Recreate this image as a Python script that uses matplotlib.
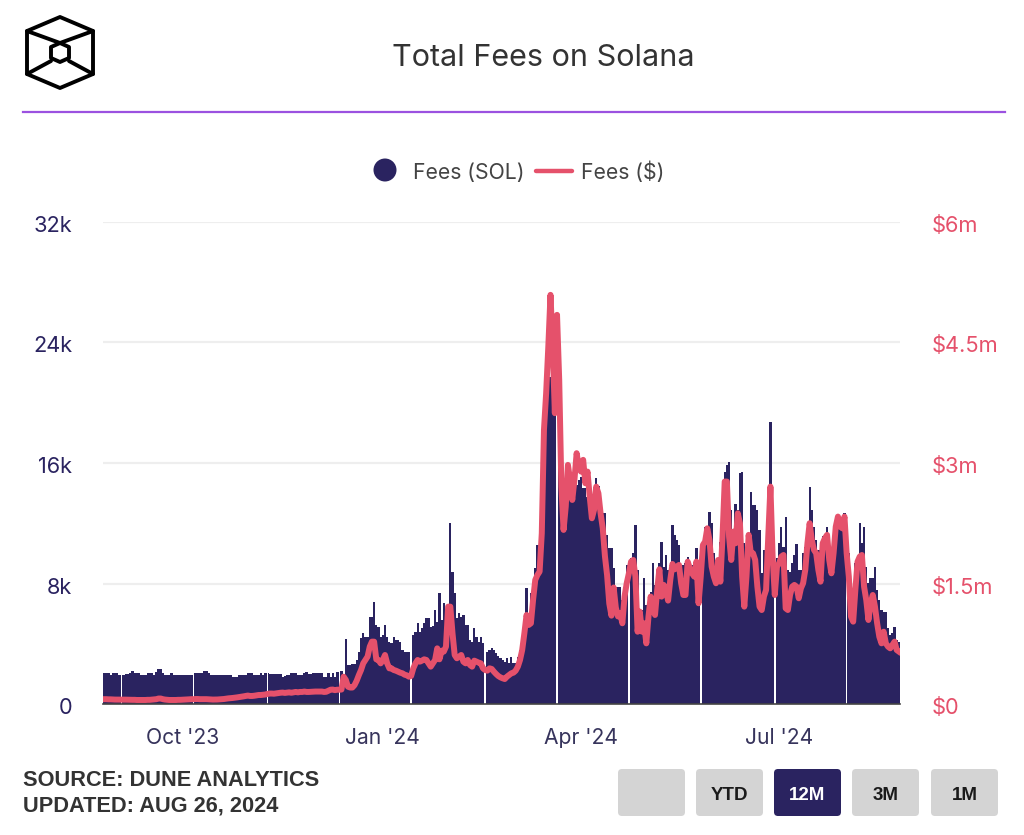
import pandas as pd
import matplotlib
matplotlib.use('Agg')
import matplotlib.pyplot as plt
from matplotlib.patches import FancyBboxPatch, Polygon, Circle
from matplotlib.transforms import ScaledTranslation


# daily fees in SOL, one row = 10 days, starts 26 Aug 2023
fees_sol = [
    2080, 2080, 2080, 1925, 2040, 2040, 2040, 1925, 1925, 1925,
    2000, 2000, 2040, 2170, 2040, 2040, 2040, 1925, 1925, 1925,
    2040, 2040, 2040, 1925, 2150, 2320, 2320, 2080, 1925, 1925,
    1925, 2040, 1925, 1925, 1925, 1925, 1925, 1925, 1925, 1925,
    1925, 1925, 2040, 2040, 2040, 2040, 2170, 2170, 2040, 1925,
    1925, 1925, 1925, 1925, 1925, 1925, 1925, 1925, 1925, 1815,
    1815, 1815, 1925, 1925, 1925, 1925, 2040, 2040, 2040, 1925,
    1925, 1925, 2040, 1925, 2040, 2040, 2000, 2000, 2000, 2000,
    2000, 2000, 1815, 1880, 1925, 1925, 2040, 2040, 2040, 1925,
    1925, 1925, 2040, 2150, 2000, 2000, 2040, 2040, 2040, 2040,
    2040, 1815, 1815, 2040, 1815, 2040, 1815, 2150, 2150, 2210,
    1815, 4290, 2590, 2590, 2655, 2655, 2920, 3450, 4360, 4690,
    4470, 4470, 5800, 5800, 6790, 5250, 5130, 4470, 4580, 5250,
    4470, 4140, 4030, 4470, 4250, 4250, 4140, 3590, 3470, 3470,
    3470, 3470, 4580, 4800, 5400, 4800, 5020, 5355, 5690, 5690,
    5130, 5170, 6240, 5470, 7350, 5580, 6680, 6130, 6130, 11990,
    8790, 7350, 5690, 6020, 5800, 5910, 5250, 5250, 4250, 4140,
    5020, 4470, 4140, 4470, 4030, 4030, 3470, 3590, 3700, 3590,
    3360, 3190, 3030, 2920, 2810, 3030, 2740, 3140, 2740, 2740,
    3140, 3590, 4030, 4800, 7680, 6020, 7350, 7570, 9010, 10560,
    10560, 13000, 17500, 19300, 20850, 21700, 19300, 19300, 19300, 16000,
    14870, 11550, 12880, 13550, 13550, 13550, 14550, 14550, 14880, 15100,
    14320, 14320, 13770, 12660, 12220, 12880, 14990, 14450, 13110, 12660,
    12660, 11220, 10340, 10340, 9010, 7790, 7790, 7790, 6900, 6240,
    9230, 9500, 9670, 10050, 11880, 8900, 6240, 6240, 8340, 6570,
    5800, 7460, 9340, 7900, 8900, 9340, 10780, 9120, 9890, 8900,
    9120, 11880, 11220, 10890, 10560, 9120, 9230, 9340, 9780, 9120,
    9230, 9450, 10330, 8900, 8900, 10780, 11770, 11770, 12770, 11990,
    10000, 9230, 9560, 10780, 9780, 15420, 15870, 16090, 12880, 11110,
    13260, 12880, 15310, 15380, 10670, 9120, 10670, 14100, 13210, 13210,
    12880, 11550, 8680, 10220, 9560, 9670, 18740, 9340, 9340, 9670,
    10670, 11770, 10440, 12440, 8900, 8790, 9340, 9890, 10600, 8900,
    8900, 10000, 10440, 10560, 14380, 12880, 11770, 10890, 10220, 10220,
    11150, 11150, 11770, 10220, 8680, 10220, 11770, 11880, 11770, 11770,
    12700, 10000, 10000, 7130, 6680, 9340, 9670, 11990, 10670, 11770,
    9120, 8010, 8340, 8340, 9120, 7570, 6900, 6240, 6130, 6130,
    5020, 4580, 4690, 5130, 4250, 4140,
]

# daily fees in $ thousands, same days
fees_usd_k = [
    60, 60, 58, 58, 56, 55, 55, 55, 54, 54,
    54, 53, 52, 52, 52, 50, 50, 50, 50, 50,
    52, 52, 55, 58, 60, 68, 68, 60, 55, 52,
    50, 50, 50, 50, 52, 52, 54, 55, 56, 58,
    60, 60, 62, 62, 60, 60, 60, 60, 58, 56,
    55, 55, 56, 58, 60, 62, 66, 70, 72, 75,
    78, 82, 86, 90, 95, 100, 105, 100, 100, 103,
    108, 112, 112, 115, 118, 125, 130, 130, 128, 132,
    135, 140, 142, 138, 142, 145, 140, 145, 150, 145,
    150, 150, 155, 150, 150, 152, 155, 155, 155, 155,
    155, 150, 152, 165, 178, 180, 172, 178, 178, 180,
    340, 300, 215, 205, 205, 235, 290, 360, 423, 506,
    548, 590, 714, 776, 776, 556, 548, 506, 548, 610,
    506, 444, 444, 423, 415, 403, 390, 382, 365, 357,
    340, 349, 444, 506, 548, 527, 540, 556, 548, 506,
    465, 506, 548, 693, 556, 664, 652, 714, 1212, 1212,
    880, 610, 569, 590, 610, 527, 506, 548, 486, 465,
    540, 527, 515, 506, 444, 423, 415, 444, 436, 403,
    374, 349, 332, 320, 311, 340, 361, 382, 390, 415,
    465, 548, 672, 880, 1108, 984, 1005, 1295, 1544, 1606,
    1648, 2125, 3412, 3869, 4450, 5093, 4450, 3620, 4844, 4035,
    2706, 2167, 2457, 2976, 2790, 2540, 2790, 3122, 2956, 2893,
    3039, 2748, 2893, 2582, 2312, 2416, 2706, 2623, 2374, 2188,
    1840, 1600, 1250, 1100, 1450, 1200, 1090, 1129, 1005, 1337,
    1503, 1627, 1772, 1793, 1586, 900, 1150, 900, 1005, 755,
    1088, 1337, 1191, 1108, 1420, 1677, 1337, 1482, 1420, 1287,
    1544, 1743, 1677, 1710, 1731, 1503, 1357, 1357, 1772, 1689,
    1627, 1586, 1772, 1254, 1586, 1980, 2022, 2187, 2042, 1710,
    1586, 1503, 1793, 1523, 2084, 2769, 2769, 2084, 1793, 2146,
    2001, 2374, 2250, 1586, 1212, 1586, 2105, 1876, 1876, 1793,
    1461, 1212, 1170, 1337, 1420, 2084, 2706, 1835, 1357, 1710,
    1752, 1835, 1855, 1191, 1170, 1357, 1461, 1482, 1461, 1316,
    1440, 1503, 1669, 2001, 2250, 2042, 1918, 1876, 1669, 1523,
    2001, 2063, 2105, 1793, 1627, 1876, 2208, 2333, 2208, 2187,
    2333, 1876, 1586, 1088, 1025, 1420, 1772, 1835, 1855, 1461,
    1295, 1046, 1254, 1357, 1212, 1005, 838, 755, 900, 755,
    714, 693, 735, 776, 672, 652,
]

# days where the chart has a thin white gap
gap_days = [8, 41, 75, 108, 141, 175, 208, 241, 274, 308, 341]

sol_ticks = [0, 8000, 16000, 24000, 32000]
sol_labels = ['0', '8k', '16k', '24k', '32k']
usd_ticks = [0, 1500, 3000, 4500, 6000]
usd_labels = ['$0', '$1.5m', '$3m', '$4.5m', '$6m']
month_ticks = ['2023-10-01', '2024-01-01', '2024-04-01', '2024-07-01']
month_labels = ["Oct '23", "Jan '24", "Apr '24", "Jul '24"]
ranges = ['', 'YTD', '12M', '3M', '1M']

NAVY = '#2a2360'
RED = '#e5516b'
W, H = 1024, 835

plt.rcParams['font.family'] = ['Inter', 'DejaVu Sans']

days = pd.date_range('2023-08-26', periods=len(fees_sol), freq='D')
usd_days = pd.date_range('2023-08-26', periods=len(fees_usd_k), freq='D')

fig = plt.figure(figsize=(W / 100, H / 100), dpi=100)
ax = fig.add_axes([103 / W, 1 - 704 / H, 797 / W, 482 / H])

ax.bar(days, fees_sol, width=1.03, color=NAVY, linewidth=0, zorder=2)
gaps = [days[d] for d in gap_days]
ax.bar(gaps, [fees_sol[d] for d in gap_days], width=0.7, color='white', linewidth=0, zorder=3)

ax.set_xlim(days[0] - pd.Timedelta(hours=12), days[-1] + pd.Timedelta(hours=12))
ax.set_ylim(0, 32000)
ax.set_yticks(sol_ticks)
ax.set_yticklabels(sol_labels, color=NAVY, fontsize=15.7)
ax.set_xticks(pd.to_datetime(month_ticks))
ax.set_xticklabels(month_labels, color='#37345c', fontsize=15.2)
ax.tick_params(axis='x', length=0, pad=17)
ax.tick_params(axis='y', length=0, pad=22)
ax.grid(axis='y', color='#eeeeee', linewidth=1.6, zorder=0)
ax.set_axisbelow(True)
for s in ['top', 'left', 'right']:
    ax.spines[s].set_visible(False)
ax.spines['bottom'].set_color('#444444')
ax.spines['bottom'].set_linewidth(1.2)
ax.spines['bottom'].set_zorder(4)

ax2 = ax.twinx()
ax2.plot(usd_days, fees_usd_k, color=RED, linewidth=4.3, solid_joinstyle='round', zorder=5)
ax2.set_ylim(0, 6000)
ax2.set_yticks(usd_ticks)
ax2.set_yticklabels(usd_labels, color=RED, fontsize=15.7)
ax2.tick_params(axis='y', length=0, pad=23)
for s in ax2.spines.values():
    s.set_visible(False)

# y labels sit 2px under their gridlines
nudge = ScaledTranslation(0, -2 / 100, fig.dpi_scale_trans)
for label in ax.get_yticklabels() + ax2.get_yticklabels():
    label.set_transform(label.get_transform() + nudge)

# everything around the plot, in pixels of the picture
over = fig.add_axes([0, 0, 1, 1], zorder=-1)
over.set_xlim(0, W)
over.set_ylim(H, 0)
over.axis('off')

over.text(543.5, 58, 'Total Fees on Solana', ha='center', va='center', fontsize=22, color='#333333')
over.plot([23, 1005], [112, 112], color='#9b51e0', linewidth=1.6)

# logo
logo_kw = dict(color='black', linewidth=2.8, solid_joinstyle='round', solid_capstyle='round')
over.add_patch(Polygon([(60, 17), (93, 31), (93, 74), (60, 88), (27, 74), (27, 31)], closed=True,
                       fill=False, edgecolor='black', linewidth=2.8, joinstyle='round'))
over.add_patch(Polygon([(60, 43), (69, 47), (69, 58), (60, 62), (51, 58), (51, 47)], closed=True,
                       fill=False, edgecolor='black', linewidth=2.8, joinstyle='round'))
over.plot([27, 60, 93], [31, 43, 31], **logo_kw)
over.plot([27, 51], [74, 61], **logo_kw)
over.plot([93, 69], [74, 61], **logo_kw)

# legend
over.add_patch(Circle((385, 170), 11.5, color=NAVY, linewidth=0))
over.text(413, 172.5, 'Fees (SOL)', va='center', fontsize=15.2, color='#444444')
over.plot([536, 572], [171, 171], color=RED, linewidth=3.2, solid_capstyle='round')
over.text(581, 172.5, 'Fees ($)', va='center', fontsize=15.2, color='#444444')

# footer
foot = ['Liberation Sans', 'DejaVu Sans']
over.text(23, 781, 'SOURCE: DUNE ANALYTICS', va='center', fontsize=15.7, fontweight='bold',
          color='#333333', family=foot)
over.text(23, 806, 'UPDATED: AUG 26, 2024', va='center', fontsize=15.7, fontweight='bold',
          color='#333333', family=foot)

# range buttons
btn_left = [618, 696, 774, 852, 931]
for i, name in enumerate(ranges):
    selected = name == '12M'
    over.add_patch(FancyBboxPatch((btn_left[i] + 2, 771), 63, 43, boxstyle='round,pad=2,rounding_size=4',
                                  facecolor=NAVY if selected else '#d4d4d4', edgecolor='none'))
    over.text(btn_left[i] + 33.5, 795, name, ha='center', va='center', fontsize=13.5, fontweight='bold',
              color='white' if selected else '#1a1a1a', family=foot)

fig.savefig('out.png', dpi=100)
